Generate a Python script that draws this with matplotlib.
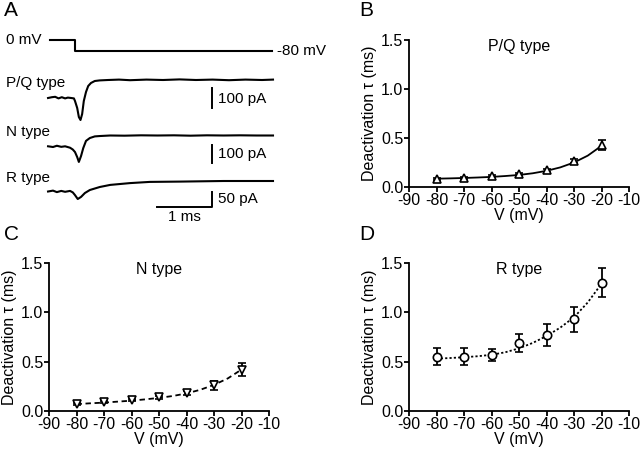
import numpy as np
import matplotlib.pyplot as plt

plt.rcParams['font.family'] = ['Liberation Sans', 'DejaVu Sans']
plt.rcParams['font.size'] = 11
plt.rcParams['axes.unicode_minus'] = False

# ---- panel A: example current traces (time in ms, current in pA)
t_v = [-0.45, 0.0, 0.0, 3.58]
v_step = [0, 0, -80, -80]

t_pq = [-0.49, -0.42, -0.36, -0.3, -0.24, -0.18, -0.13, -0.07, -0.02, 0.0, 0.04, 0.07,
        0.1, 0.13, 0.16, 0.2, 0.24, 0.29, 0.36, 0.45, 0.6, 0.8, 1.0, 1.3, 1.6, 1.9,
        2.2, 2.5, 2.8, 3.1, 3.4, 3.6]
i_pq = [-90, -86, -84, -92, -86, -92, -88, -90, -92, -105, -140, -185,
        -200, -170, -105, -60, -30, -15, -5, -2, 0, 2, -1, 2, 0, 3,
        0, 2, -1, 2, 0, 2]

t_n = [-0.49, -0.4, -0.33, -0.25, -0.18, -0.09, -0.04, 0.0, 0.04, 0.07, 0.11, 0.15,
       0.2, 0.27, 0.36, 0.45, 0.64, 0.9, 1.2, 1.5, 1.8, 2.1, 2.4, 2.7, 3.0, 3.3, 3.6]
i_n = [-60, -64, -57, -63, -60, -68, -78, -92, -120, -147, -114, -70,
       -30, -14, -5, -3, 0, -1, 1, 0, 1, -1, 1, 0, 1, 0, 0]

t_r = [-0.49, -0.4, -0.33, -0.25, -0.18, -0.09, -0.04, 0.0, 0.05, 0.11, 0.18, 0.27,
       0.45, 0.64, 0.82, 1.0, 1.36, 1.91, 2.3, 2.7, 3.1, 3.6]
i_r = [-35, -32, -37, -33, -36, -33, -38, -47, -60, -53, -40, -30,
       -20, -13, -10, -7, -3, -2, -1, 0, 0, 0]

# ---- panels B-D: deactivation tau vs voltage
volts = [-80, -70, -60, -50, -40, -30, -20]
tau_pq = [0.08, 0.09, 0.11, 0.13, 0.17, 0.27, 0.43]
err_pq = [0.01, 0.01, 0.01, 0.01, 0.015, 0.02, 0.05]
tau_n = [0.07, 0.09, 0.11, 0.14, 0.18, 0.26, 0.42]
err_n = [0.01, 0.01, 0.01, 0.015, 0.02, 0.045, 0.065]
tau_r = [0.55, 0.55, 0.57, 0.69, 0.77, 0.93, 1.30]
err_r = [0.085, 0.088, 0.06, 0.095, 0.11, 0.125, 0.145]

fit_v = [-80, -75, -70, -65, -60, -55, -50, -45, -40, -35, -30, -25, -20]
fit_pq = [0.085, 0.088, 0.092, 0.097, 0.103, 0.112, 0.123, 0.14, 0.165, 0.20, 0.25, 0.32, 0.42]
fit_n = [0.07, 0.078, 0.085, 0.095, 0.105, 0.118, 0.133, 0.152, 0.178, 0.215, 0.265, 0.33, 0.42]
fit_r = [0.53, 0.537, 0.545, 0.555, 0.57, 0.595, 0.635, 0.69, 0.76, 0.845, 0.95, 1.10, 1.29]

fig = plt.figure(figsize=(6.4, 4.5), dpi=100)
W, H = 640, 450

def ftext(x, y, s, **kw):
    fig.text(x / W, 1 - y / H, s, va='center', **kw)

# panel A axes: x in ms, y in pixel rows
ax_a = fig.add_axes([0, 0.5, 0.5, 0.5])
ax_a.set_xlim(-75 / 55, 245 / 55)
ax_a.set_ylim(225, 0)
ax_a.axis('off')

lw = 1.5
ax_a.plot(t_v, 39.5 - np.array(v_step) * (11.5 / 80), color='black', lw=lw)
ax_a.plot(t_pq, 80 - np.array(i_pq) / 5.0, color='black', lw=lw)
ax_a.plot(t_n, 135.5 - np.array(i_n) / 5.56, color='black', lw=lw)
ax_a.plot(t_r, 181 - np.array(i_r) / 3.33, color='black', lw=lw)

# scale bars
bx = (212 - 75) / 55
ax_a.plot([bx, bx], [88, 108], color='black', lw=1.4)
ax_a.plot([bx, bx], [145, 163], color='black', lw=1.4)
ax_a.plot([bx - 1, bx, bx], [207, 207, 192], color='black', lw=1.4)

ftext(4, 11, 'A', fontsize=15)
ftext(6, 40, '0 mV', fontsize=11)
ftext(277, 51, '-80 mV', fontsize=11)
ftext(6, 83, 'P/Q type', fontsize=11)
ftext(6, 132, 'N type', fontsize=11)
ftext(6, 178, 'R type', fontsize=11)
ftext(218, 99, '100 pA', fontsize=11)
ftext(218, 154, '100 pA', fontsize=11)
ftext(218, 199, '50 pA', fontsize=11)
ftext(184, 217, '1 ms', fontsize=11, ha='center')

def tau_panel(rect, tau, err, fit, marker, ls, title):
    ax = fig.add_axes(rect)
    ax.plot(fit_v, fit, color='black', lw=1.3, linestyle=ls)
    ax.errorbar(volts, tau, yerr=err, fmt=marker, color='black', mfc='white',
                mec='black', ms=6, mew=1.2, capsize=3, elinewidth=1.3, capthick=1.3)
    ax.set_xlim(-90, -10)
    ax.set_ylim(0, 1.5)
    ax.set_xticks(range(-90, 0, 10))
    ax.set_yticks([0.0, 0.5, 1.0, 1.5])
    ax.set_yticklabels(['0.0', '0.5', '1.0', '1.5'])
    for s in ['top', 'right']:
        ax.spines[s].set_visible(False)
    for s in ['left', 'bottom']:
        ax.spines[s].set_linewidth(1.3)
    ax.tick_params(width=1.3, length=3.5, pad=0.5, labelsize=11.5)
    ax.set_xlabel('V (mV)', fontsize=11.5, labelpad=0.5)
    ax.set_ylabel('Deactivation τ (ms)', fontsize=11.5, labelpad=3)
    ax.text(-50, 1.43, title, ha='center', va='center', fontsize=11.5)
    return ax

tau_panel([409 / W, 1 - 187 / H, 220 / W, 147 / H], tau_pq, err_pq, fit_pq, '^', '-', 'P/Q type')
tau_panel([49 / W, 1 - 411 / H, 220 / W, 148 / H], tau_n, err_n, fit_n, 'v', (0, (3, 2)), 'N type')
tau_panel([409 / W, 1 - 411 / H, 220 / W, 148 / H], tau_r, err_r, fit_r, 'o', (0, (1.2, 1.2)), 'R type')

ftext(359, 11, 'B', fontsize=15)
ftext(4, 234, 'C', fontsize=15)
ftext(359, 234, 'D', fontsize=15)

fig.savefig('out.png', dpi=100)
